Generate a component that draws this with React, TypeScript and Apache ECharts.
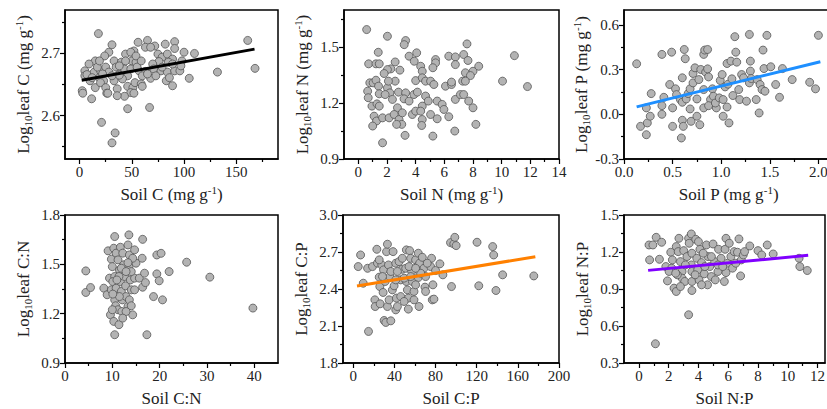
import React, { useEffect, useRef } from "react";
import * as echarts from "echarts";

const FONT = "'Liberation Serif', 'Times New Roman', Times, serif";

// ---- data ----
const soilC_leafC: number[][] = [
  [18, 2.732], [65, 2.721], [56, 2.718], [72, 2.712], [82, 2.715], [91, 2.719], [161, 2.721], [31, 2.714],
  [52, 2.704], [63, 2.71], [68, 2.71], [91, 2.708], [100, 2.702], [110, 2.7], [28, 2.702], [44, 2.699],
  [49, 2.702], [24, 2.696], [15, 2.688], [9, 2.683], [33, 2.688], [40, 2.686], [50, 2.688], [54, 2.686],
  [75, 2.699], [79, 2.694], [84, 2.699], [89, 2.691], [98, 2.688], [85, 2.686], [76, 2.687], [70, 2.683],
  [5, 2.672], [5, 2.664], [14, 2.67], [20, 2.672], [25, 2.678], [19, 2.661], [23, 2.656], [28, 2.67],
  [35, 2.678], [38, 2.667], [43, 2.675], [46, 2.664], [49, 2.675], [57, 2.672], [63, 2.671], [71, 2.675],
  [78, 2.672], [84, 2.67], [91, 2.672], [96, 2.672], [83, 2.656], [89, 2.648], [86, 2.661], [68, 2.66],
  [105, 2.66], [132, 2.67], [168, 2.676], [10, 2.656], [15, 2.645], [20, 2.653], [25, 2.645], [26, 2.636],
  [33, 2.656], [36, 2.643], [41, 2.659], [46, 2.647], [51, 2.645], [53, 2.653], [59, 2.651], [60, 2.647],
  [49, 2.637], [43, 2.631], [36, 2.632], [38, 2.665], [2.5, 2.64], [3, 2.636], [11.5, 2.627], [21, 2.589],
  [34, 2.572], [31, 2.556], [46, 2.611], [67, 2.613], [7, 2.666], [12, 2.661], [17, 2.678], [22, 2.667],
  [31, 2.664], [38, 2.68], [44, 2.688], [55, 2.678], [60, 2.664], [65, 2.667], [73, 2.664], [79, 2.678],
  [89, 2.683], [97, 2.68], [54, 2.696], [59, 2.688], [19, 2.688], [52, 2.636], [27, 2.636],
];

const soilN_leafN: number[][] = [
  [0.58, 1.595], [2.03, 1.559], [3.3, 1.536], [3.2, 1.514], [1.39, 1.473], [4.07, 1.47], [3.54, 1.452],
  [3.9, 1.425], [2.57, 1.421], [0.72, 1.411], [1.23, 1.411], [1.46, 1.411], [2.27, 1.384], [2.03, 1.38],
  [1.8, 1.359], [2.9, 1.377], [4.35, 1.398], [4.46, 1.371], [4.0, 1.321], [4.46, 1.336], [4.69, 1.318],
  [5.39, 1.434], [5.39, 1.416], [5.2, 1.39], [6.31, 1.452], [6.77, 1.448], [7.35, 1.461], [7.58, 1.518],
  [7.65, 1.429], [6.77, 1.407], [7.47, 1.363], [8.0, 1.371], [8.4, 1.398], [10.89, 1.455], [10.06, 1.318],
  [11.8, 1.289], [0.65, 1.264], [0.69, 1.229], [0.8, 1.309], [1.03, 1.309], [1.23, 1.323], [1.41, 1.291],
  [1.46, 1.25], [0.95, 1.184], [1.3, 1.196], [1.46, 1.184], [1.1, 1.13], [1.27, 1.104], [1.0, 1.077],
  [1.69, 1.121], [2.15, 1.121], [1.69, 0.987], [2.03, 1.282], [2.2, 1.255], [1.87, 1.246], [2.38, 1.22],
  [2.57, 1.318], [2.1, 1.318], [2.8, 1.259], [2.73, 1.175], [2.5, 1.139], [2.84, 1.112], [3.07, 1.148],
  [3.03, 1.086], [2.67, 1.086], [3.3, 1.255], [3.19, 1.223], [3.54, 1.211], [3.26, 1.027], [3.77, 1.139],
  [3.88, 1.246], [4.12, 1.259], [4.0, 1.157], [4.46, 1.184], [4.35, 1.157], [4.46, 1.112], [4.42, 1.08],
  [4.69, 1.238], [4.88, 1.211], [5.04, 1.139], [5.04, 1.318], [5.27, 1.3], [5.2, 1.023], [5.5, 1.211],
  [5.5, 1.116], [5.85, 1.193], [5.97, 1.166], [6.08, 1.291], [6.5, 1.3], [6.5, 1.313], [6.31, 1.127],
  [6.77, 1.22], [6.73, 1.05], [7.12, 1.246], [7.28, 1.318], [7.35, 1.246], [7.7, 1.211], [8.0, 1.175],
  [8.2, 1.086], [7.82, 1.348], [7.47, 1.318],
];

const soilP_leafP: number[][] = [
  [0.13, 0.339], [0.17, -0.081], [0.23, -0.137], [0.24, -0.058], [0.27, -0.013], [0.28, 0.139], [0.23, 0.043],
  [0.39, 0.402], [0.49, 0.417], [0.41, 0.114], [0.39, 0.058], [0.39, 0.0], [0.47, 0.2], [0.5, 0.043],
  [0.5, -0.081], [0.53, 0.171], [0.54, 0.132], [0.58, 0.099], [0.6, -0.04], [0.59, -0.159], [0.61, -0.081],
  [0.62, 0.435], [0.63, 0.373], [0.6, 0.245], [0.6, 0.081], [0.64, 0.103], [0.66, 0.139], [0.68, 0.171],
  [0.68, 0.036], [0.69, -0.047], [0.71, 0.211], [0.71, 0.274], [0.73, 0.312], [0.75, 0.103], [0.79, 0.301],
  [0.77, 0.233], [0.75, -0.013], [0.78, -0.07], [0.82, 0.402], [0.83, 0.431], [0.86, 0.435], [0.82, 0.166],
  [0.82, 0.043], [0.84, 0.283], [0.87, 0.251], [0.86, 0.305], [0.89, 0.099], [0.87, 0.058], [0.91, 0.171],
  [0.92, 0.121], [0.95, 0.043], [0.94, 0.076], [0.98, 0.11], [0.99, 0.227], [1.01, 0.267], [1.02, 0.099],
  [1.02, -0.013], [1.04, 0.184], [1.06, 0.049], [1.07, 0.202], [1.08, -0.058], [1.06, 0.341], [1.1, 0.357],
  [1.11, 0.238], [1.12, 0.126], [1.14, 0.521], [1.15, 0.417], [1.16, 0.35], [1.18, 0.166], [1.19, 0.099],
  [1.21, 0.267], [1.23, 0.245], [1.26, 0.088], [1.29, 0.536], [1.3, 0.357], [1.3, 0.29], [1.29, 0.211],
  [1.31, 0.24], [1.36, 0.099], [1.37, 0.233], [1.39, 0.009], [1.4, 0.2], [1.42, 0.166], [1.43, 0.431],
  [1.44, 0.307], [1.45, 0.155], [1.47, 0.53], [1.51, 0.319], [1.56, 0.2], [1.6, 0.114], [1.63, 0.307],
  [1.73, 0.233], [1.91, 0.215], [1.97, 0.171], [2.0, 0.53],
];

const soilCN_leafCN: number[][] = [
  [4.4, 1.46], [4.4, 1.329], [5.4, 1.359], [8.2, 1.355], [8.9, 1.315], [9.1, 1.582], [9.4, 1.416],
  [9.8, 1.345], [9.6, 1.193], [10.3, 1.153], [10.5, 1.072], [10.5, 1.669], [10.3, 1.598], [9.8, 1.531],
  [10.0, 1.486], [10.5, 1.426], [10.1, 1.395], [10.8, 1.355], [10.5, 1.284], [10.7, 1.248], [11.2, 1.224],
  [11.4, 1.133], [10.8, 1.568], [11.2, 1.527], [11.5, 1.466], [11.7, 1.395], [11.9, 1.335], [12.1, 1.284],
  [11.7, 1.604], [12.2, 1.568], [12.4, 1.497], [12.6, 1.426], [12.8, 1.369], [12.9, 1.304], [13.3, 1.244],
  [13.5, 1.679], [13.3, 1.618], [13.6, 1.557], [13.5, 1.486], [13.8, 1.405], [14.0, 1.345], [13.6, 1.284],
  [14.3, 1.193], [14.7, 1.588], [15.0, 1.507], [14.7, 1.416], [14.7, 1.345], [15.7, 1.416], [16.4, 1.652],
  [16.3, 1.537], [16.4, 1.361], [17.0, 1.389], [16.8, 1.446], [17.3, 1.072], [18.7, 1.304], [19.4, 1.442],
  [19.4, 1.557], [20.3, 1.567], [19.9, 1.4], [20.6, 1.284], [22.0, 1.456], [25.7, 1.513], [30.6, 1.422],
  [39.7, 1.234], [11.4, 1.426], [12.0, 1.213], [12.9, 1.213], [12.2, 1.173], [14.0, 1.248], [14.0, 1.456],
  [11.5, 1.304], [10.1, 1.319], [10.0, 1.224], [10.96, 1.405], [11.9, 1.476], [12.9, 1.456], [14.3, 1.537],
  [13.3, 1.51],
];

const soilCP_leafCP: number[][] = [
  [4.8, 2.582], [7.1, 2.676], [9.7, 2.447], [13.9, 2.568], [18.7, 2.582], [14.8, 2.056], [22.9, 2.722],
  [23.5, 2.61], [21, 2.312], [21.3, 2.258], [25.2, 2.496], [25.8, 2.42], [26.1, 2.28], [27.7, 2.595],
  [29.4, 2.555], [31, 2.461], [29, 2.372], [30, 2.145], [31.6, 2.129], [32.3, 2.703], [33.2, 2.763],
  [34.2, 2.595], [35.5, 2.501], [33.2, 2.258], [34.8, 2.312], [36.5, 2.142], [38, 2.393], [38.7, 2.703],
  [39.7, 2.426], [41.3, 2.231], [41.9, 2.326], [42.9, 2.258], [41.3, 2.609], [44.5, 2.622], [46.1, 2.474],
  [47.7, 2.56], [47.7, 2.649], [51.6, 2.717], [51, 2.568], [51.6, 2.461], [52.6, 2.393], [53.5, 2.326],
  [53.5, 2.237], [54.8, 2.711], [55.8, 2.649], [56.8, 2.542], [57.4, 2.461], [59, 2.38], [59, 2.312],
  [60.6, 2.636], [62.3, 2.582], [63.2, 2.493], [63.2, 2.69], [64.5, 2.609], [63.9, 2.258], [67.1, 2.657],
  [68.7, 2.568], [69.7, 2.415], [70.3, 2.501], [75.2, 2.582], [76.1, 2.649], [77.4, 2.434], [76.8, 2.312],
  [78.4, 2.318], [80, 2.55], [84.2, 2.604], [87.1, 2.515], [94.5, 2.776], [97.7, 2.765], [98.7, 2.819],
  [100, 2.752], [95.5, 2.42], [120.3, 2.779], [135.5, 2.744], [136.5, 2.676], [122, 2.426], [138.7, 2.388],
  [145.2, 2.515], [175.5, 2.506], [28.4, 2.501], [36.5, 2.542], [42.9, 2.542], [49.4, 2.488], [55.8, 2.501],
  [60.6, 2.434], [65.5, 2.528], [71.9, 2.609], [54.2, 2.582], [46.1, 2.339], [49.4, 2.299], [60.6, 2.568],
  [70.3, 2.38], [25.2, 2.636], [41.3, 2.474],
];

const soilNP_leafNP: number[][] = [
  [0.68, 1.257], [0.72, 1.136], [0.94, 1.257], [1.16, 1.319], [1.53, 1.279], [1.11, 0.456], [1.38, 1.141],
  [1.81, 1.082], [1.92, 0.966], [2.14, 1.198], [2.2, 1.069], [2.25, 1.136], [2.36, 0.907], [2.51, 0.88],
  [2.51, 1.244], [2.64, 1.203], [2.69, 1.311], [2.79, 1.122], [2.9, 1.042], [2.9, 0.988], [3.01, 1.211],
  [3.08, 0.961], [3.23, 1.163], [3.34, 1.311], [3.38, 1.271], [3.34, 0.691], [3.52, 1.346], [3.56, 1.19],
  [3.52, 1.095], [3.56, 1.042], [3.56, 0.961], [3.56, 0.888], [3.82, 1.303], [3.89, 1.149], [3.95, 1.055],
  [4.04, 0.974], [4.1, 1.222], [4.21, 1.114], [4.39, 1.023], [4.54, 1.257], [4.65, 1.163], [4.61, 0.934],
  [4.76, 1.082], [4.87, 1.001], [4.98, 1.265], [5.09, 1.122], [5.13, 0.974], [5.31, 1.042], [5.35, 1.222],
  [5.52, 1.149], [5.74, 0.961], [5.79, 1.222], [5.85, 1.311], [5.85, 1.033], [5.96, 1.109], [6.07, 1.271],
  [6.18, 1.163], [6.29, 1.069], [6.4, 1.203], [6.51, 1.109], [6.62, 1.198], [6.72, 1.306], [6.83, 1.006],
  [6.88, 1.136], [7.01, 1.176], [7.1, 1.203], [7.45, 1.249], [8.0, 1.211], [8.25, 1.176], [8.62, 1.257],
  [9.02, 1.184], [10.76, 1.149], [10.81, 1.082], [11.31, 1.05], [2.03, 1.042], [2.58, 1.015], [3.12, 1.095],
  [3.78, 1.015], [4.21, 0.934], [4.43, 1.082], [4.87, 1.163], [5.31, 1.095], [5.63, 1.082], [4.0, 1.284],
  [4.32, 1.19], [2.79, 0.92], [2.47, 1.028],
];

// regression lines (end points)
const fitSoilC: number[][] = [[2, 2.657], [167.5, 2.707]];
const fitSoilP: number[][] = [[0.13, 0.05], [2.02, 0.353]];
const fitSoilCP: number[][] = [[3.6, 2.424], [177, 2.662]];
const fitSoilNP: number[][] = [[0.62, 1.051], [11.37, 1.173]];

// ticks
const ticksX1 = [0, 50, 100, 150];
const minorX1 = [25, 75, 125, 175];
const ticksY1 = [2.6, 2.7];
const minorY1 = [2.55, 2.65, 2.75];
const ticksX2 = [0, 2, 4, 6, 8, 10, 12, 14];
const minorX2 = [1, 3, 5, 7, 9, 11, 13];
const ticksY2 = [0.9, 1.2, 1.5];
const minorY2 = [1.05, 1.35, 1.65];
const ticksX3 = [0, 0.5, 1.0, 1.5, 2.0];
const minorX3 = [0.25, 0.75, 1.25, 1.75];
const ticksY3 = [-0.3, 0, 0.3, 0.6];
const minorY3 = [-0.15, 0.15, 0.45];
const ticksX4 = [0, 10, 20, 30, 40];
const minorX4 = [5, 15, 25, 35];
const ticksY4 = [0.9, 1.2, 1.5, 1.8];
const minorY4 = [1.05, 1.35, 1.65];
const ticksX5 = [0, 40, 80, 120, 160, 200];
const minorX5 = [20, 60, 100, 140, 180];
const ticksY5 = [1.8, 2.1, 2.4, 2.7, 3.0];
const minorY5 = [1.95, 2.25, 2.55, 2.85];
const ticksX6 = [0, 2, 4, 6, 8, 10, 12];
const minorX6 = [1, 3, 5, 7, 9, 11];
const ticksY6 = [0.3, 0.6, 0.9, 1.2, 1.5];
const minorY6 = [0.45, 0.75, 1.05, 1.35];

type Panel = {
  box: { left: number; top: number; width: number; height: number };
  xr: [number, number];
  yr: [number, number];
  xt: number[]; xm: number[]; yt: number[]; ym: number[];
  xd: number; yd: number;
  xName: string; yName: string;
  pts: number[][];
  fit?: number[][];
  fitColor?: string;
};

const panels: Panel[] = [
  {
    box: { left: 65, top: 10, width: 213, height: 149 }, xr: [-14, 190], yr: [2.53, 2.77],
    xt: ticksX1, xm: minorX1, yt: ticksY1, ym: minorY1, xd: 0, yd: 1,
    xName: "{n|Soil C (mg g}{p|-1}{n|)}", yName: "{n|Log}{s|10}{n|leaf C (mg g}{p|-1}{n|)}",
    pts: soilC_leafC, fit: fitSoilC, fitColor: "#000000",
  },
  {
    box: { left: 344, top: 10, width: 215, height: 149 }, xr: [-1, 14], yr: [0.9, 1.7],
    xt: ticksX2, xm: minorX2, yt: ticksY2, ym: minorY2, xd: 0, yd: 1,
    xName: "{n|Soil N (mg g}{p|-1}{n|)}", yName: "{n|Log}{s|10}{n|leaf N (mg g}{p|-1}{n|)}",
    pts: soilN_leafN,
  },
  {
    box: { left: 624, top: 10, width: 209, height: 149 }, xr: [0, 2.15], yr: [-0.3, 0.7],
    xt: ticksX3, xm: minorX3, yt: ticksY3, ym: minorY3, xd: 1, yd: 1,
    xName: "{n|Soil P (mg g}{p|-1}{n|)}", yName: "{n|Log}{s|10}{n|leaf P (mg g}{p|-1}{n|)}",
    pts: soilP_leafP, fit: fitSoilP, fitColor: "#1e8fff",
  },
  {
    box: { left: 65, top: 215, width: 213, height: 148 }, xr: [0, 45], yr: [0.9, 1.8],
    xt: ticksX4, xm: minorX4, yt: ticksY4, ym: minorY4, xd: 0, yd: 1,
    xName: "{n|Soil C:N}", yName: "{n|Log}{s|10}{n|leaf C:N}",
    pts: soilCN_leafCN,
  },
  {
    box: { left: 343, top: 215, width: 216, height: 148 }, xr: [-10, 200], yr: [1.8, 3.0],
    xt: ticksX5, xm: minorX5, yt: ticksY5, ym: minorY5, xd: 0, yd: 1,
    xName: "{n|Soil C:P}", yName: "{n|Log}{s|10}{n|leaf C:P}",
    pts: soilCP_leafCP, fit: fitSoilCP, fitColor: "#ff8000",
  },
  {
    box: { left: 624, top: 215, width: 201, height: 148 }, xr: [-1, 12.5], yr: [0.3, 1.5],
    xt: ticksX6, xm: minorX6, yt: ticksY6, ym: minorY6, xd: 0, yd: 1,
    xName: "{n|Soil N:P}", yName: "{n|Log}{s|10}{n|leaf N:P}",
    pts: soilNP_leafNP, fit: fitSoilNP, fitColor: "#8000ff",
  },
];

const TXT = "#222";
const rich = {
  n: { fontFamily: FONT, fontSize: 17, color: TXT, lineHeight: 20 },
  s: { fontFamily: FONT, fontSize: 11, color: TXT, lineHeight: 12, verticalAlign: "bottom" },
  p: { fontFamily: FONT, fontSize: 11, color: TXT, lineHeight: 12, verticalAlign: "top" },
};

function buildOption() {
  const grid: any[] = [];
  const xAxis: any[] = [];
  const yAxis: any[] = [];
  const series: any[] = [];
  const lineStyle = { color: "#000", width: 1.5 };
  panels.forEach((p, i) => {
    grid.push({ ...p.box, show: true, borderColor: "#000", borderWidth: 1.5, backgroundColor: "transparent" });
    const common = { type: "value", gridIndex: i, splitLine: { show: false }, scale: false };
    xAxis.push({
      ...common, position: "bottom", min: p.xr[0], max: p.xr[1],
      axisLine: { show: true, onZero: false, lineStyle },
      axisTick: { show: true, inside: false, length: 5, customValues: p.xt, lineStyle: { color: "#000", width: 1.2 } },
      axisLabel: {
        show: true, customValues: p.xt, margin: 5, fontSize: 15, fontFamily: FONT, color: TXT,
        formatter: (v: number) => Number(v).toFixed(p.xd),
      },
      name: p.xName, nameLocation: "middle", nameGap: 25,
      nameTextStyle: { fontFamily: FONT, fontSize: 17, color: TXT, rich },
    });
    xAxis.push({
      ...common, position: "bottom", min: p.xr[0], max: p.xr[1],
      axisLine: { show: false, onZero: false },
      axisTick: { show: true, inside: false, length: 3, customValues: p.xm, lineStyle: { color: "#000", width: 1.2 } },
      axisLabel: { show: false },
    });
    yAxis.push({
      ...common, position: "left", min: p.yr[0], max: p.yr[1],
      axisLine: { show: true, onZero: false, lineStyle },
      axisTick: { show: true, inside: false, length: 5, customValues: p.yt, lineStyle: { color: "#000", width: 1.2 } },
      axisLabel: {
        show: true, customValues: p.yt, margin: 5, fontSize: 15, fontFamily: FONT, color: TXT,
        formatter: (v: number) => Number(v).toFixed(p.yd),
      },
      name: p.yName, nameLocation: "middle", nameGap: 32, nameRotate: 90,
      nameTextStyle: { fontFamily: FONT, fontSize: 17, color: TXT, rich },
    });
    yAxis.push({
      ...common, position: "left", min: p.yr[0], max: p.yr[1],
      axisLine: { show: false, onZero: false },
      axisTick: { show: true, inside: false, length: 3, customValues: p.ym, lineStyle: { color: "#000", width: 1.2 } },
      axisLabel: { show: false },
    });
    series.push({
      type: "scatter", xAxisIndex: 2 * i, yAxisIndex: 2 * i, data: p.pts, symbolSize: 8,
      itemStyle: { color: "#b3b3b3", borderColor: "#555", borderWidth: 0.8, opacity: 1 },
      z: 2, silent: true,
    });
    if (p.fit) {
      series.push({
        type: "line", xAxisIndex: 2 * i, yAxisIndex: 2 * i, data: p.fit, symbol: "none",
        lineStyle: { color: p.fitColor, width: 3 }, z: 3, silent: true,
      });
    }
  });
  return { animation: false, backgroundColor: "#ffffff", grid, xAxis, yAxis, series };
}

export default function App() {
  const ref = useRef<HTMLDivElement>(null);
  useEffect(() => {
    if (!ref.current) return;
    document.body.style.margin = "0";
    document.body.style.overflow = "hidden";
    const chart = echarts.init(ref.current, undefined, { renderer: "svg" });
    chart.setOption(buildOption() as any);
    return () => chart.dispose();
  }, []);
  return (
    <div
      ref={ref}
      style={{ position: "fixed", left: 0, top: 0, width: 850, height: 409, background: "#fff" }}
    />
  );
}
